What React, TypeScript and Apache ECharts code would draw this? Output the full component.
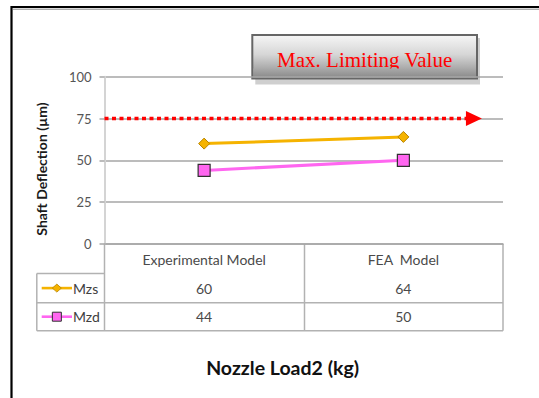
import React, { useEffect, useRef } from "react";
import * as echarts from "echarts";

// Chart data
const categories = ["Experimental Model", "FEA  Model"];
const mzsValues = [60, 64];
const mzdValues = [44, 50];
const seriesNames = ["Mzs", "Mzd"];
const yTicks = { min: 0, max: 100, interval: 25 };
const limitValue = 75;
const limitTitle = "Max. Limiting Value";
const yTitle = "Shaft Deflection (\u00b5m)";
const xTitle = "Nozzle Load2 (kg)";

// The limit arrow runs on a hidden 0–100 horizontal scale
const limitSpan = [0, 92.7];

const GRID_LEFT = 104.5;
const GRID_RIGHT_X = 503;
const GRID_TOP = 76.7;
const AXIS_Y = 244;
const ROW1 = 273.5;
const ROW2 = 302.7;
const TABLE_BOTTOM = 330.7;
const TABLE_LEFT = 36.8;
const COL_DIV = 304.5;

const MZS_COLOR = "#f5b300";
const MZD_COLOR = "#ff66f0";
const tableLine = "#b2b2b2";
const textFont = "Lato, 'Open Sans', sans-serif";

export default function App() {
  const ref = useRef<HTMLDivElement>(null);

  useEffect(() => {
    if (!ref.current) return;
    const chart = echarts.init(ref.current, null, { renderer: "svg" });

    const hLine = (x1: number, x2: number, y: number, color = tableLine, w = 1.5) => ({
      type: "line",
      shape: { x1, y1: y, x2, y2: y },
      style: { stroke: color, lineWidth: w },
      silent: true,
    });
    const vLine = (x: number, y1: number, y2: number, color = tableLine, w = 1.5) => ({
      type: "line",
      shape: { x1: x, y1, x2: x, y2 },
      style: { stroke: color, lineWidth: w },
      silent: true,
    });

    // legend keys inside the data table
    const keyX1 = 41.7;
    const keyX2 = 72;
    const keyMid = (keyX1 + keyX2) / 2;
    const row1Mid = (ROW1 + ROW2) / 2;
    const row2Mid = (ROW2 + TABLE_BOTTOM) / 2;
    const legendKey = (y: number, color: string, marker: any, label: string) => [
      {
        type: "line",
        shape: { x1: keyX1, y1: y, x2: keyX2, y2: y },
        style: { stroke: color, lineWidth: 2.6 },
        silent: true,
      },
      marker,
      {
        type: "text",
        x: keyX2 + 1,
        y: y,
        style: {
          text: label,
          align: "left",
          verticalAlign: "middle",
          fontFamily: textFont,
          fontSize: 14,
          fill: "#404040",
        },
        silent: true,
      },
    ];

    const boxX = 252.3;
    const boxY = 35;
    const boxW = 224.7;
    const boxH = 43.5;

    const option: any = {
      animation: false,
      backgroundColor: "#ffffff",
      grid: {
        left: GRID_LEFT,
        right: 539 - GRID_RIGHT_X,
        top: GRID_TOP,
        bottom: 398 - AXIS_Y,
        containLabel: false,
      },
      legend: { show: false },
      xAxis: [
        {
          type: "category",
          data: categories,
          boundaryGap: true,
          axisLine: { show: true, lineStyle: { color: "#a6a6a6", width: 1.5 } },
          axisTick: { show: false },
          splitLine: { show: false },
          axisLabel: {
            margin: 1.5,
            interval: 0,
            fontFamily: textFont,
            fontSize: 14,
            color: "#4a4a4a",
            lineHeight: 28.5,
            formatter: (v: string, i: number) => `${v}\n${mzsValues[i]}\n${mzdValues[i]}`,
          },
        },
        {
          type: "value",
          min: 0,
          max: 100,
          show: false,
        },
      ],
      yAxis: {
        type: "value",
        min: yTicks.min,
        max: yTicks.max,
        interval: yTicks.interval,
        axisLine: { show: true, lineStyle: { color: "#d4d4d4", width: 2 } },
        axisTick: { show: true, length: 5, lineStyle: { color: "#a6a6a6", width: 1.5 } },
        splitLine: { show: true, lineStyle: { color: "#a6a6a6", width: 1.5 } },
        axisLabel: { margin: 13, fontFamily: textFont, fontSize: 13, color: "#555555" },
      },
      series: [
        {
          name: "limit",
          type: "line",
          xAxisIndex: 1,
          data: [
            { value: [limitSpan[0], limitValue], symbol: "none" },
            {
              value: [limitSpan[1], limitValue],
              symbol: "triangle",
              symbolRotate: -90,
              symbolSize: [15, 16],
              itemStyle: { color: "#ff0000", borderWidth: 0 },
            },
          ],
          showSymbol: true,
          lineStyle: { color: "#ff0000", width: 3.5, type: [4, 3.5], cap: "butt" },
          itemStyle: { color: "#ff0000" },
          z: 3,
          silent: true,
        },
        {
          name: seriesNames[0],
          type: "line",
          data: mzsValues,
          symbol: "diamond",
          symbolSize: 11,
          color: MZS_COLOR,
          lineStyle: { color: MZS_COLOR, width: 3 },
          itemStyle: { color: MZS_COLOR, borderColor: "#b88400", borderWidth: 1 },
          z: 4,
        },
        {
          name: seriesNames[1],
          type: "line",
          data: mzdValues,
          symbol: "rect",
          symbolSize: 12,
          color: MZD_COLOR,
          lineStyle: { color: MZD_COLOR, width: 3 },
          itemStyle: { color: MZD_COLOR, borderColor: "#303030", borderWidth: 1.2 },
          z: 4,
        },
      ],
      graphic: [
        // outer frame
        {
          type: "rect",
          shape: { x: 11.5, y: 7, width: 620, height: 500 },
          style: { fill: "none", stroke: "#000000", lineWidth: 2.2 },
          silent: true,
        },
        hLine(13, 539, 9.2, "#8a8a8a", 1),
        // data table grid
        vLine(TABLE_LEFT, ROW1, TABLE_BOTTOM),
        vLine(GRID_LEFT, AXIS_Y, TABLE_BOTTOM),
        vLine(COL_DIV, AXIS_Y, TABLE_BOTTOM),
        vLine(GRID_RIGHT_X, AXIS_Y, TABLE_BOTTOM),
        hLine(TABLE_LEFT, GRID_LEFT, ROW1),
        hLine(TABLE_LEFT, GRID_RIGHT_X, ROW2),
        hLine(TABLE_LEFT, GRID_RIGHT_X, TABLE_BOTTOM),
        ...legendKey(
          row1Mid,
          MZS_COLOR,
          {
            type: "polygon",
            shape: {
              points: [
                [keyMid, row1Mid - 4],
                [keyMid + 4.5, row1Mid],
                [keyMid, row1Mid + 4],
                [keyMid - 4.5, row1Mid],
              ],
            },
            style: { fill: MZS_COLOR, stroke: "#b88400", lineWidth: 0.8 },
            silent: true,
          },
          seriesNames[0]
        ),
        ...legendKey(
          row2Mid,
          MZD_COLOR,
          {
            type: "rect",
            shape: { x: keyMid - 4.5, y: row2Mid - 4.5, width: 9, height: 9 },
            style: { fill: MZD_COLOR, stroke: "#303030", lineWidth: 1 },
            silent: true,
          },
          seriesNames[1]
        ),
        // axis titles
        {
          type: "text",
          x: 41,
          y: 169,
          rotation: Math.PI / 2,
          style: {
            text: yTitle,
            align: "center",
            verticalAlign: "middle",
            fontFamily: textFont,
            fontWeight: "bold",
            fontSize: 14,
            fill: "#1a1a1a",
          },
          silent: true,
        },
        {
          type: "text",
          x: 282.6,
          y: 367,
          style: {
            text: xTitle,
            align: "center",
            verticalAlign: "middle",
            fontFamily: textFont,
            fontWeight: "bold",
            fontSize: 19.5,
            fill: "#111111",
          },
          silent: true,
        },
        // limit caption box
        {
          type: "rect",
          shape: { x: boxX + 3, y: boxY + 3, width: boxW, height: boxH + 3 },
          style: { fill: "#cfcfcf" },
          silent: true,
        },
        {
          type: "rect",
          shape: { x: boxX, y: boxY, width: boxW, height: boxH },
          style: {
            fill: new echarts.graphic.LinearGradient(0, 0, 0, 1, [
              { offset: 0, color: "#f6f6f6" },
              { offset: 0.45, color: "#d6d6d6" },
              { offset: 1, color: "#8a8a8a" },
            ]),
            stroke: "#666666",
            lineWidth: 2,
          },
          silent: true,
        },
        {
          type: "text",
          x: boxX + boxW / 2,
          y: 59.5,
          style: {
            text: limitTitle,
            align: "center",
            verticalAlign: "middle",
            fontFamily: "'Liberation Serif', 'Times New Roman', serif",
            fontSize: 21,
            fill: "#ff0000",
          },
          silent: true,
        },
        {
          type: "rect",
          shape: { x: boxX + 1, y: 68.5, width: boxW - 2, height: boxY + boxH - 68.5 - 1 },
          style: {
            fill: new echarts.graphic.LinearGradient(0, 0, 0, 1, [
              { offset: 0, color: "#a9a9a9" },
              { offset: 1, color: "#8a8a8a" },
            ]),
          },
          silent: true,
        },
      ],
    };

    chart.setOption(option);
    return () => chart.dispose();
  }, []);

  return (
    <div
      ref={ref}
      style={{ position: "absolute", left: 0, top: 0, width: 539, height: 398, background: "#fff" }}
    />
  );
}
